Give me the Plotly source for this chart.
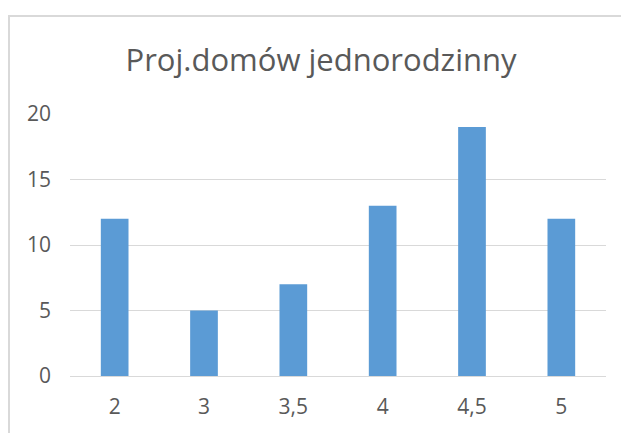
import plotly.graph_objects as go

# data
categories = ["2", "3", "3,5", "4", "4,5", "5"]
values = [12, 5, 7, 13, 19, 12]
y_ticks = [0, 5, 10, 15, 20]

BAR_COLOR = "#5b9bd5"
TEXT_COLOR = "#595959"
GRID_COLOR = "#d9d9d9"

# page body has an 8px margin, so the figure is a bit smaller than the window
W, H = 621, 425
ML, MR, MT, MB = 62, 23, 106, 57
pw = W - ML - MR
ph = H - MT - MB

fig = go.Figure()
fig.add_trace(go.Bar(
    x=categories, y=values,
    marker=dict(color=BAR_COLOR, line=dict(width=0)),
))

# chart frame (light gray border, cut off at right/bottom)
fig.add_shape(
    type="rect", xref="paper", yref="paper", layer="below",
    x0=(1 - ML) / pw, x1=(W + 20 - ML) / pw,
    y0=-(MB + 20) / ph, y1=(H - MB - 8) / ph,
    line=dict(color=GRID_COLOR, width=2), fillcolor="rgba(0,0,0,0)",
)

fig.update_layout(
    width=W, height=H,
    margin=dict(l=ML, r=MR, t=MT, b=MB),
    paper_bgcolor="white", plot_bgcolor="white",
    showlegend=False,
    bargap=0.69,
    title=dict(
        text="Proj.domów jednorodzinny",
        x=(313 - ML) / pw, xref="paper", xanchor="center",
        y=1 - 52 / H, yref="container", yanchor="middle",
        font=dict(family="Open Sans", size=31, color=TEXT_COLOR),
    ),
    font=dict(family="Open Sans", color=TEXT_COLOR),
    xaxis=dict(
        type="category",
        showgrid=False, showline=True, linecolor=GRID_COLOR, linewidth=1,
        ticks="", tickfont=dict(size=21, color=TEXT_COLOR),
        ticklabelstandoff=12,
    ),
    yaxis=dict(
        range=[0, 20], tickvals=y_ticks,
        showgrid=True, gridcolor=GRID_COLOR, gridwidth=1,
        zeroline=False, showline=False,
        ticks="", tickfont=dict(size=21, color=TEXT_COLOR),
        ticklabelstandoff=18,
    ),
)

fig.write_html("out.html")
